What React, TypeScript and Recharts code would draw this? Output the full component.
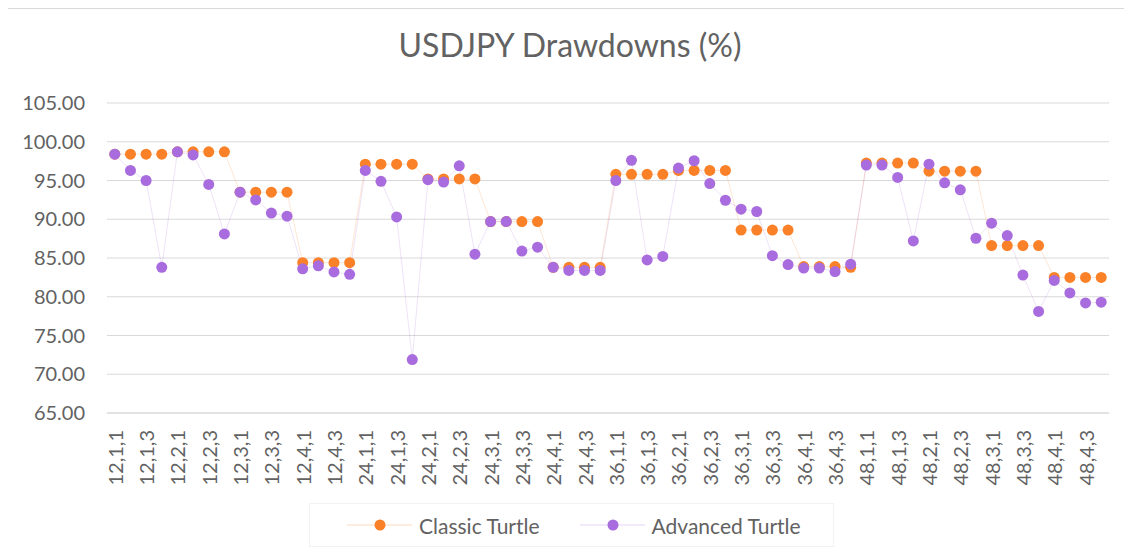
import React from 'react';
import { LineChart, Line, XAxis, YAxis, CartesianGrid, Legend } from 'recharts';

// category labels: window, entry, exit
const windows = [12, 24, 36, 48];
const entries = [1, 2, 3, 4];
const exits = [1, 2, 3, 4];

const categories: string[] = [];
windows.forEach((w) =>
  entries.forEach((e) => exits.forEach((x) => categories.push(`${w},${e},${x}`)))
);

const classicTurtle = [
  98.4, 98.4, 98.4, 98.4, 98.7, 98.7, 98.7, 98.7, 93.5, 93.5, 93.5, 93.5, 84.4, 84.4, 84.4, 84.4,
  97.1, 97.1, 97.1, 97.1, 95.2, 95.2, 95.2, 95.2, 89.7, 89.7, 89.7, 89.7, 83.8, 83.8, 83.8, 83.8,
  95.8, 95.8, 95.8, 95.8, 96.3, 96.3, 96.3, 96.3, 88.6, 88.6, 88.6, 88.6, 83.9, 83.9, 83.9, 83.8,
  97.25, 97.25, 97.25, 97.25, 96.2, 96.2, 96.2, 96.2, 86.6, 86.6, 86.6, 86.6, 82.5, 82.5, 82.5, 82.5,
];

const advancedTurtle = [
  98.4, 96.3, 95.0, 83.8, 98.7, 98.3, 94.5, 88.1, 93.5, 92.5, 90.8, 90.4, 83.6, 84.0, 83.2, 82.9,
  96.3, 94.9, 90.3, 71.9, 95.1, 94.8, 96.9, 85.5, 89.7, 89.7, 85.9, 86.4, 83.8, 83.4, 83.4, 83.4,
  95.0, 97.6, 84.75, 85.2, 96.6, 97.55, 94.6, 92.45, 91.3, 91.0, 85.3, 84.15, 83.7, 83.7, 83.25, 84.2,
  97.0, 97.0, 95.4, 87.2, 97.1, 94.7, 93.8, 87.55, 89.5, 87.9, 82.8, 78.1, 82.1, 80.5, 79.2, 79.3,
];

const yTicks = [65, 70, 75, 80, 85, 90, 95, 100, 105];

const series = [
  { key: 'classic', name: 'Classic Turtle', color: '#FA8128' },
  { key: 'advanced', name: 'Advanced Turtle', color: '#A86CDE' },
];

const data = categories.map((cat, i) => ({
  cat,
  classic: classicTurtle[i],
  advanced: advancedTurtle[i],
}));

const FONT = 'Lato, "Open Sans", sans-serif';
const TEXT = '#626262';

function XTick({ x, y, payload }: any) {
  return (
    <text
      x={x}
      y={y}
      transform={`rotate(-90 ${x} ${y})`}
      textAnchor="end"
      dominantBaseline="central"
      fill={TEXT}
      fontSize={20}
      fontFamily={FONT}
    >
      {payload.value}
    </text>
  );
}

function LegendBox() {
  return (
    <div
      style={{
        boxSizing: 'border-box',
        width: 525,
        height: 44,
        border: '1px solid #F2F2F2',
        display: 'flex',
        alignItems: 'center',
        paddingLeft: 37,
        fontFamily: FONT,
        fontSize: 21,
        color: TEXT,
      }}
    >
      {series.map((s, i) => (
        <div key={s.key} style={{ display: 'flex', alignItems: 'center', marginRight: i === 0 ? 40 : 0 }}>
          <svg width={65} height={14} style={{ marginRight: 7 }}>
            <line x1={0} y1={7} x2={65} y2={7} stroke={s.color} strokeOpacity={0.3} strokeWidth={1} />
            <circle cx={33} cy={7} r={5.5} fill={s.color} />
          </svg>
          <span>{s.name}</span>
        </div>
      ))}
    </div>
  );
}

export default function App() {
  return (
    <div
      style={{
        position: 'relative',
        margin: '-8px 0 0 -8px',
        width: 1132,
        height: 557,
        overflow: 'hidden',
        background: '#fff',
      }}
    >
      <div
        style={{
          position: 'absolute',
          left: 5,
          top: 8,
          width: 1140,
          height: 560,
          border: '1px solid #D9D9D9',
        }}
      />
      <div
        style={{
          position: 'absolute',
          left: 4,
          top: 29,
          width: 1132,
          textAlign: 'center',
          fontFamily: FONT,
          fontSize: 32,
          lineHeight: 1,
          color: TEXT,
        }}
      >
        USDJPY Drawdowns (%)
      </div>
      <LineChart
        width={1132}
        height={557}
        data={data}
        margin={{ top: 103, right: 23, left: 0, bottom: 10 }}
        style={{ position: 'absolute', left: 0, top: 0 }}
      >
        <CartesianGrid vertical={false} stroke="#D9D9D9" strokeWidth={1} />
        <XAxis
          dataKey="cat"
          interval={1}
          height={90}
          tickLine={false}
          tickSize={6}
          tickMargin={11}
          axisLine={{ stroke: '#D9D9D9' }}
          padding={{ left: 7.8, right: 7.8 }}
          tick={<XTick />}
        />
        <YAxis
          width={107}
          domain={[65, 105]}
          ticks={yTicks}
          tickFormatter={(v: number) => v.toFixed(2)}
          axisLine={false}
          tickLine={false}
          tickSize={6}
          tickMargin={16}
          tick={{ fill: TEXT, fontSize: 20, fontFamily: FONT }}
        />
        <Legend
          verticalAlign="bottom"
          content={() => <LegendBox />}
          wrapperStyle={{ left: 309, top: 503, bottom: 'auto', width: 525, height: 44 }}
        />
        {series.map((s) => (
          <Line
            key={s.key}
            type="linear"
            dataKey={s.key}
            name={s.name}
            stroke={s.color}
            strokeOpacity={0.25}
            strokeWidth={0.8}
            dot={{ r: 5.5, fill: s.color, stroke: 'none' }}
            activeDot={false}
            isAnimationActive={false}
          />
        ))}
      </LineChart>
    </div>
  );
}
